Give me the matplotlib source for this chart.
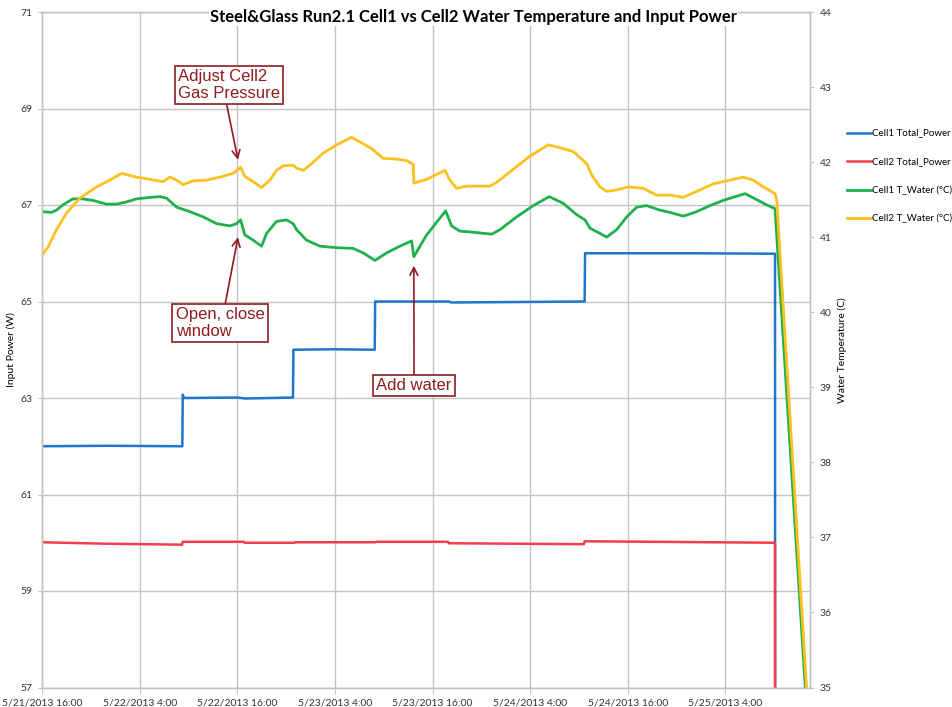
import matplotlib
matplotlib.use("Agg")
import matplotlib.pyplot as plt

# ---------------- data ----------------
tick_hours = [0, 12, 24, 36, 48, 60, 72, 84]
tick_labels = ["5/21/2013 16:00", "5/22/2013 4:00", "5/22/2013 16:00", "5/23/2013 4:00",
               "5/23/2013 16:00", "5/24/2013 4:00", "5/24/2013 16:00", "5/25/2013 4:00"]

# Cell1 Total_Power (W)
p1_h = [0, 8, 17.25, 17.3, 17.45, 24, 25, 30.85, 30.9, 36, 40.9, 40.95, 50, 50.3, 66.7, 66.75, 80, 90.1, 90.12]
p1_v = [62.0, 62.01, 62.0, 63.07, 63.0, 63.01, 62.99, 63.01, 64.0, 64.01, 64.0, 65.0, 65.0, 64.98, 65.0, 66.0, 66.0, 65.99, 50.0]

# Cell2 Total_Power (W)
p2_h = [0, 8, 17.2, 17.3, 24.8, 24.9, 31.0, 31.1, 41.0, 41.1, 49.9, 50.0, 66.6, 66.7, 75, 90.1, 90.12]
p2_v = [60.01, 59.98, 59.96, 60.02, 60.02, 60.00, 60.00, 60.01, 60.01, 60.02, 60.02, 59.99, 59.97, 60.03, 60.02, 60.0, 50.0]

# Cell1 T_Water (°C)
t1_h = [0.0, 1.17, 1.78, 2.56, 3.79, 5.02, 6.25, 7.93, 9.16, 10.39, 11.62, 13.26, 14.49, 15.31, 16.54,
        18.17, 19.81, 21.46, 23.09, 23.91, 24.41, 24.93, 25.96, 26.99, 27.60, 28.83, 30.06, 30.87,
        31.29, 32.52, 34.16, 36.21, 38.25, 39.48, 40.92, 42.36, 43.99, 45.43, 45.71, 47.28, 49.61,
        50.35, 51.37, 52.60, 55.27, 56.29, 58.34, 60.38, 62.35, 64.07, 65.72, 66.74, 67.35, 68.58,
        69.41, 70.64, 71.87, 73.10, 74.32, 75.96, 77.19, 78.82, 80.47, 82.10, 83.74, 86.41, 87.85,
        89.07, 90.10, 93.85]
t1_v = [41.34, 41.33, 41.36, 41.43, 41.51, 41.51, 41.49, 41.44, 41.44, 41.47, 41.51, 41.53, 41.54, 41.52, 41.40,
        41.34, 41.27, 41.18, 41.15, 41.18, 41.23, 41.03, 40.96, 40.88, 41.05, 41.21, 41.23, 41.18,
        41.10, 40.96, 40.88, 40.86, 40.85, 40.79, 40.69, 40.79, 40.88, 40.95, 40.74, 41.03, 41.35,
        41.15, 41.08, 41.07, 41.04, 41.10, 41.27, 41.42, 41.54, 41.45, 41.30, 41.23, 41.12, 41.05,
        41.00, 41.10, 41.27, 41.40, 41.42, 41.36, 41.33, 41.28, 41.34, 41.42, 41.49, 41.58, 41.50,
        41.43, 41.38, 34.95]

# Cell2 T_Water (°C)
t2_h = [0.0, 0.75, 1.78, 3.01, 4.65, 6.70, 8.34, 9.77, 11.62, 13.25, 14.89, 15.71, 16.54, 17.35, 18.58,
        20.23, 21.86, 23.50, 24.41, 24.93, 25.96, 26.99, 28.01, 28.83, 29.64, 30.87, 31.29, 32.10,
        32.93, 34.56, 36.21, 38.05, 39.07, 40.51, 41.94, 43.59, 44.82, 45.63, 45.71, 47.28, 49.53,
        50.14, 50.97, 52.19, 55.06, 55.88, 57.52, 59.98, 62.23, 64.07, 65.30, 66.95, 67.56, 68.58,
        69.41, 70.64, 72.06, 73.91, 75.55, 77.19, 78.82, 80.47, 82.51, 84.16, 86.20, 87.43, 88.66,
        90.10, 90.31, 94.0]
t2_v = [40.76, 40.87, 41.10, 41.32, 41.52, 41.67, 41.76, 41.85, 41.80, 41.77, 41.74, 41.80, 41.76, 41.70, 41.75,
        41.76, 41.80, 41.85, 41.93, 41.81, 41.74, 41.66, 41.76, 41.89, 41.95, 41.96, 41.92, 41.89,
        41.96, 42.12, 42.23, 42.33, 42.27, 42.18, 42.05, 42.04, 42.02, 41.97, 41.72, 41.77, 41.89,
        41.76, 41.65, 41.68, 41.68, 41.73, 41.87, 42.08, 42.23, 42.18, 42.14, 41.98, 41.83, 41.67,
        41.61, 41.63, 41.67, 41.65, 41.56, 41.56, 41.53, 41.61, 41.71, 41.75, 41.80, 41.76, 41.67,
        41.58, 41.50, 34.95]

series_names = ["Cell1 Total_Power (W)", "Cell2 Total_Power (W)", "Cell1 T_Water (°C)", "Cell2 T_Water (°C)"]
series_colors = ["#1F76CB", "#F43E4C", "#1FB14C", "#FDC11F"]

# annotations: (text, tip hour, tip temperature)
notes = [("Adjust Cell2\nGas Pressure", 24.09, 42.03),
         ("Open, close\nwindow", 24.09, 41.0),
         ("Add water", 45.71, 40.62)]

# ---------------- figure ----------------
W, H = 953, 707
fig = plt.figure(figsize=(W / 100, H / 100), dpi=100)
L, R, T, B = 42, 810, 12, 687.5
ax = fig.add_axes([L / W, 1 - B / H, (R - L) / W, (B - T) / H])
ax2 = ax.twinx()

grid_c = "#c4c4c4"
tick_font = ["Lato", "DejaVu Sans"]
note_c = "#8E1B1E"

ax.set_xlim(0, 94.4)
ax.set_ylim(57, 71)
ax2.set_ylim(35, 44)

ax.set_xticks(tick_hours)
ax.set_xticklabels(tick_labels, family=tick_font, fontsize=7.5)
ax.set_yticks(range(57, 72, 2))
ax.set_yticklabels([str(v) for v in range(57, 72, 2)], family=tick_font, fontsize=7.5)
ax2.set_yticks(range(35, 45))
ax2.set_yticklabels([str(v) for v in range(35, 45)], family=tick_font, fontsize=7.5)

ax.grid(True, color=grid_c, linewidth=1.0)
ax.set_axisbelow(True)
for a in (ax, ax2):
    for s in a.spines.values():
        s.set_color(grid_c)
        s.set_linewidth(1.0)
    a.tick_params(colors="#333333", length=3, width=0.8, pad=4)
    a.tick_params(axis="both", color=grid_c)
ax.tick_params(axis="x", length=4, pad=4)

ax.set_ylabel("Input Power (W)", family=tick_font, fontsize=7.5, labelpad=3)
ax2.set_ylabel("Water Temperature (C)", family=tick_font, fontsize=7.5, labelpad=4, rotation=90)

l1, = ax.plot(p1_h, p1_v, color=series_colors[0], lw=1.8, solid_joinstyle="round")
l2, = ax.plot(p2_h, p2_v, color=series_colors[1], lw=1.8, solid_joinstyle="round")
l3, = ax2.plot(t1_h, t1_v, color=series_colors[2], lw=2.0, solid_joinstyle="round")
l4, = ax2.plot(t2_h, t2_v, color=series_colors[3], lw=2.0, solid_joinstyle="round")

# annotations
box = dict(boxstyle="square,pad=0.2", fc="white", ec=note_c, lw=1.2)
arrow = dict(arrowstyle="->", color=note_c, lw=1.2, shrinkA=0, shrinkB=0, mutation_scale=14)
positions = [(0.2435, 0.892), (0.232, 0.5396), (0.4844, 0.447)]
relpos = [(0.47, 0.0), (0.55, 1.0), (0.5, 1.0)]
for (txt, xh, yt), pos, rp in zip(notes, positions, relpos):
    ap = dict(arrow)
    ap["relpos"] = rp
    ax2.annotate(txt, xy=(xh, yt), xycoords="data", xytext=pos, textcoords="axes fraction",
                 ha="center", va="center", multialignment="left", fontsize=12, color=note_c,
                 family=["Liberation Sans", "DejaVu Sans"], linespacing=1.15,
                 bbox=box, arrowprops=ap, zorder=10)

fig.text(0.497, 1 - 17 / H, "Steel&Glass Run2.1 Cell1 vs Cell2 Water Temperature and Input Power",
         ha="center", va="center", fontsize=12, fontweight="bold", family=tick_font,
         bbox=dict(fc="white", ec="none", pad=1))

fig.legend([l1, l2, l3, l4], series_names, loc="upper left",
           bbox_to_anchor=(847 / W, 1 - 129 / H), frameon=False,
           prop={"family": tick_font, "size": 7}, handlelength=2.5, handletextpad=0.1,
           labelspacing=1.95, borderpad=0, borderaxespad=0)

fig.savefig("out.png", dpi=100)
